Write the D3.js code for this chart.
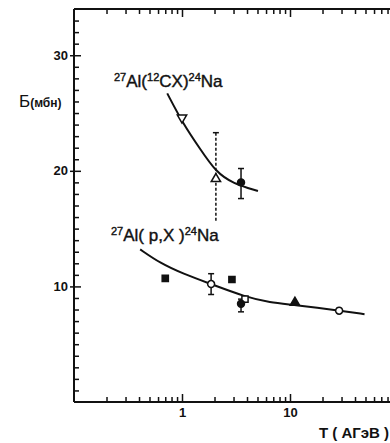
<!DOCTYPE html>
<html>
<head>
<meta charset="utf-8">
<script src="https://cdn.jsdelivr.net/npm/d3@7"></script>
<style>
  body { margin: 0; background: #fff; }
  svg { display: block; font-family: "Liberation Sans", Arial, sans-serif; }
</style>
</head>
<body>
<svg width="390" height="443"></svg>
<script>
// 12C beam points: energy T (A GeV), cross-section (mb)
const cT = [1.0, 2.06, 3.52]
const cS = [24.6, 19.3, 19.0]
const cSym = ["triDownOpen", "triOpen", "circleFilled"]
// error bars [T, low, high, dashed]
const cErr = [[2.06, 15.6, 23.3, true], [3.52, 17.6, 20.2, false]]

// proton points
const pT = [0.70, 1.86, 2.9, 3.83, 3.52, 11.1, 28.5]
const pS = [10.7, 10.2, 10.6, 8.9, 8.5, 8.6, 7.9]
const pSym = ["squareFilled", "circleOpen", "squareFilled", "squareOpen", "circleFilled", "triFilled", "circleOpen"]
const pErr = [[1.86, 9.3, 11.1, false], [3.52, 7.8, 8.9, false], [28.5, 7.7, 8.1, false]]

// fitted curves
const cCurveT = [0.73, 1.02, 1.47, 2.06, 2.96, 5.05]
const cCurveS = [26.7, 24.1, 21.9, 19.9, 18.9, 18.25]
const pCurveT = [0.41, 0.63, 1.02, 1.86, 3.83, 6.5, 11.1, 28.5, 49]
const pCurveS = [13.2, 12.0, 11.1, 10.2, 9.1, 8.6, 8.4, 7.9, 7.6]

const xMinor = [0.2, 0.3, 0.4, 0.5, 0.6, 0.7, 0.8, 0.9, 2, 3, 4, 5, 6, 7, 8, 9, 20, 30, 40, 50, 60, 70, 80, 90]
const xMajor = [1, 10]
const yMajor = [10, 20, 30]

const svg = d3.select("svg")
const x = d3.scaleLog().domain([0.1, 100]).range([74, 398])
const y = d3.scaleLinear().domain([0, 34]).range([402, 9])

const ink = "#111"

// frame lines
svg.append("line").attr("x1", 74).attr("x2", 390).attr("y1", y(34)).attr("y2", y(34)).attr("stroke", ink).attr("stroke-width", 2)
svg.append("line").attr("x1", 74).attr("x2", 390).attr("y1", y(0)).attr("y2", y(0)).attr("stroke", ink).attr("stroke-width", 2)
svg.append("line").attr("x1", 74).attr("x2", 74).attr("y1", y(34)).attr("y2", y(0)).attr("stroke", ink).attr("stroke-width", 2)

// bottom axis
const xb = svg.append("g").attr("transform", `translate(0,${y(0)})`)
  .call(d3.axisBottom(x).tickValues(xMinor.concat(xMajor)).tickSize(-5).tickPadding(6)
    .tickFormat(d => xMajor.includes(d) ? d : ""))
xb.select(".domain").remove()
xb.selectAll(".tick line").attr("stroke", ink).attr("stroke-width", 1.5)
  .attr("y2", d => xMajor.includes(d) ? -8 : -5)
xb.selectAll("text").attr("fill", ink).attr("font-size", 13).attr("font-weight", "bold")

// top axis
const xt = svg.append("g").attr("transform", `translate(0,${y(34)})`)
  .call(d3.axisTop(x).tickValues(xMinor.concat(xMajor)).tickSize(-5).tickFormat(""))
xt.select(".domain").remove()
xt.selectAll(".tick line").attr("stroke", ink).attr("stroke-width", 1.5)
  .attr("y2", d => xMajor.includes(d) ? 8 : 5)

// left axis
const ya = svg.append("g").attr("transform", "translate(74,0)")
  .call(d3.axisLeft(y).tickValues(d3.range(1, 34)).tickSize(-5).tickPadding(6)
    .tickFormat(d => yMajor.includes(d) ? d : ""))
ya.select(".domain").remove()
ya.selectAll(".tick line").attr("stroke", ink).attr("stroke-width", 1.5)
  .attr("x1", d => yMajor.includes(d) ? -4 : 0)
  .attr("x2", d => yMajor.includes(d) ? 7 : 5)
ya.selectAll("text").attr("fill", ink).attr("font-size", 13).attr("font-weight", "bold")

// curves
const line = d3.line().x(d => x(d[0])).y(d => y(d[1])).curve(d3.curveBasis)
svg.append("path").attr("d", line(d3.zip(cCurveT, cCurveS)))
  .attr("fill", "none").attr("stroke", ink).attr("stroke-width", 2)
svg.append("path").attr("d", line(d3.zip(pCurveT, pCurveS)))
  .attr("fill", "none").attr("stroke", ink).attr("stroke-width", 2)

// error bars
function errBars(list) {
  list.forEach(([t, lo, hi, dashed]) => {
    svg.append("line").attr("x1", x(t)).attr("x2", x(t)).attr("y1", y(hi)).attr("y2", y(lo))
      .attr("stroke", ink).attr("stroke-width", 1.5).attr("stroke-dasharray", dashed ? "3,2" : null)
    svg.append("line").attr("x1", x(t) - 3).attr("x2", x(t) + 3).attr("y1", y(hi)).attr("y2", y(hi))
      .attr("stroke", ink).attr("stroke-width", 1.5)
    if (!dashed) svg.append("line").attr("x1", x(t) - 3).attr("x2", x(t) + 3).attr("y1", y(lo)).attr("y2", y(lo))
      .attr("stroke", ink).attr("stroke-width", 1.5)
  })
}
errBars(cErr)
errBars(pErr)

// markers
const symType = {
  triDownOpen: [d3.symbolTriangle, false, 180],
  triOpen: [d3.symbolTriangle, false, 0],
  triFilled: [d3.symbolTriangle, true, 0],
  circleFilled: [d3.symbolCircle, true, 0],
  circleOpen: [d3.symbolCircle, false, 0],
  squareFilled: [d3.symbolSquare, true, 0],
  squareOpen: [d3.symbolSquare, false, 0],
}
function markers(ts, ss, syms) {
  svg.append("g").selectAll("path").data(d3.zip(ts, ss, syms)).join("path")
    .attr("d", d => d3.symbol().type(symType[d[2]][0]).size(38)())
    .attr("transform", d => `translate(${x(d[0])},${y(d[1])}) rotate(${symType[d[2]][2]})`)
    .attr("fill", d => symType[d[2]][1] ? ink : "#fff")
    .attr("stroke", ink).attr("stroke-width", 1.5)
}
markers(cT, cS, cSym)
markers(pT, pS, pSym)

// reaction labels
function reaction(xp, yp, mid) {
  const t = svg.append("text").attr("x", xp).attr("y", yp).attr("fill", ink)
    .attr("font-size", 17).attr("stroke", ink).attr("stroke-width", 0.4)
  t.append("tspan").attr("font-size", 11).attr("dy", -6).text("27")
  t.append("tspan").attr("dy", 6).text("Al(")
  mid(t)
  t.append("tspan").attr("font-size", 11).attr("dy", -6).text("24")
  t.append("tspan").attr("dy", 6).text("Na")
}
reaction(114, 87, t => {
  t.append("tspan").attr("font-size", 11).attr("dy", -6).text("12")
  t.append("tspan").attr("dy", 6).text("CX)")
})
reaction(111, 241, t => {
  t.append("tspan").text(" p,X )")
})

// axis titles
const yl = svg.append("text").attr("x", 19).attr("y", 107).attr("fill", ink).attr("font-size", 17)
yl.append("tspan").text("Б")
yl.append("tspan").attr("font-size", 12).attr("font-weight", "bold").text("(мбн)")

svg.append("text").attr("x", 319).attr("y", 438).attr("fill", ink)
  .attr("font-size", 15).attr("font-weight", "bold").text("T ( АГэВ )")
</script>
</body>
</html>
